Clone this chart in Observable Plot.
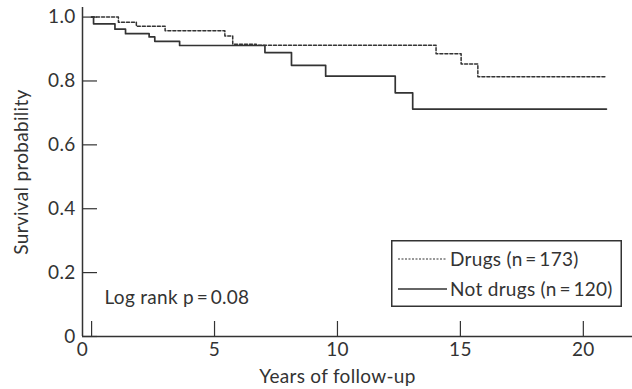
<!DOCTYPE html>
<html><head><meta charset="utf-8">
<script src="https://cdn.jsdelivr.net/npm/d3@7"></script>
<script src="https://cdn.jsdelivr.net/npm/@observablehq/plot@0.6"></script>
<style>
body{margin:0;background:#fff;}
#chart{position:relative;width:632px;height:389px;font-family:Lato,sans-serif;color:#333;}
#legend{position:absolute;left:391px;top:240px;}
</style></head><body><div id="chart"></div>
<script>
// Kaplan–Meier step data
const drugsTime = [0, 1.09, 1.82, 2.99, 5.42, 5.74, 6.7, 14.01, 15.03, 15.71, 20.94];
const drugsSurv = [1.0, 0.984, 0.971, 0.957, 0.941, 0.915, 0.912, 0.885, 0.853, 0.813, 0.813];
const notDrugsTime = [0, 0.08, 0.95, 1.38, 2.34, 2.57, 3.58, 7.05, 8.13, 9.52, 12.35, 13.06, 20.94];
const notDrugsSurv = [1.0, 0.979, 0.962, 0.948, 0.938, 0.924, 0.911, 0.889, 0.849, 0.815, 0.763, 0.712, 0.712];
const xTicks = [0, 5, 10, 15, 20];
const yTicks = [0, 0.2, 0.4, 0.6, 0.8, 1.0];
const xLabel = "Years of follow-up";
const yLabel = "Survival probability";
const logRankLabel = "Log rank p\u2009=\u20090.08";
const seriesNames = ["Drugs (n\u2009=\u2009173)", "Not drugs (n\u2009=\u2009120)"];

const ink = "#333";
const font = "Lato, sans-serif";
const fs = 19;
const xDomain = [-0.37, 22];
const yDomain = [0, 1.03];
const drugs = drugsTime.map((t, i) => ({t, s: drugsSurv[i]}));
const notDrugs = notDrugsTime.map((t, i) => ({t, s: notDrugsSurv[i]}));

const plot = Plot.plot({
  width: 632, height: 389,
  marginLeft: 82, marginRight: 0, marginTop: 7, marginBottom: 53,
  style: {fontFamily: font, fontSize: fs + "px", color: ink, background: "#fff", letterSpacing: "0.3px"},
  x: {domain: xDomain},
  y: {domain: yDomain},
  marks: [
    Plot.ruleX([xDomain[0]], {stroke: ink, strokeWidth: 1.5}),
    Plot.ruleY([0], {stroke: ink, strokeWidth: 1.5}),
    Plot.axisY(yTicks, {tickSize: -15, tickPadding: 22, strokeWidth: 1.2, tickFormat: d => d === 0 ? "0" : d.toFixed(1), label: null}),
    Plot.axisX(xTicks, {tickSize: -15, tickPadding: 21, strokeWidth: 1.2, tickFormat: d => d === 0 ? "" : String(d), label: null}),
    Plot.text([xTicks[0]], {x: xDomain[0], y: 0, text: d => String(d), lineAnchor: "top", dy: 6, fill: ink}),
    Plot.line(drugs, {x: "t", y: "s", curve: "step-after", stroke: ink, strokeWidth: 1.5, strokeDasharray: "3,2"}),
    Plot.line(notDrugs, {x: "t", y: "s", curve: "step-after", stroke: ink, strokeWidth: 1.7}),
    Plot.text([xLabel], {x: d3.mean(xTicks), frameAnchor: "bottom", dy: 46, fill: ink}),
    Plot.text([yLabel], {frameAnchor: "left", dx: -61, rotate: -90, textAnchor: "middle", fill: ink}),
    Plot.text([logRankLabel], {frameAnchor: "bottom-left", dx: 22, dy: -33, textAnchor: "start", fill: ink})
  ]
});
const chart = document.getElementById("chart");
chart.appendChild(plot);

// legend overlay
const leg = d3.select(chart).append("svg").attr("id", "legend").attr("width", 232).attr("height", 68);
leg.append("rect").attr("x", 0.75).attr("y", 0.75).attr("width", 229.5).attr("height", 65.5)
  .attr("fill", "#fff").attr("stroke", ink).attr("stroke-width", 1.5);
const styles = [{dash: "2,1.5", w: 1.2}, {dash: null, w: 1.6}];
seriesNames.forEach((name, i) => {
  const cy = 19 + i * 30;
  leg.append("line").attr("x1", 7).attr("x2", 56).attr("y1", cy).attr("y2", cy)
    .attr("stroke", ink).attr("stroke-width", styles[i].w).attr("stroke-dasharray", styles[i].dash);
  leg.append("text").attr("x", 59).attr("y", cy).attr("dy", "0.35em")
    .attr("font-family", font).attr("font-size", fs).attr("letter-spacing", "0.3px").attr("fill", ink).text(name);
});
</script></body></html>
